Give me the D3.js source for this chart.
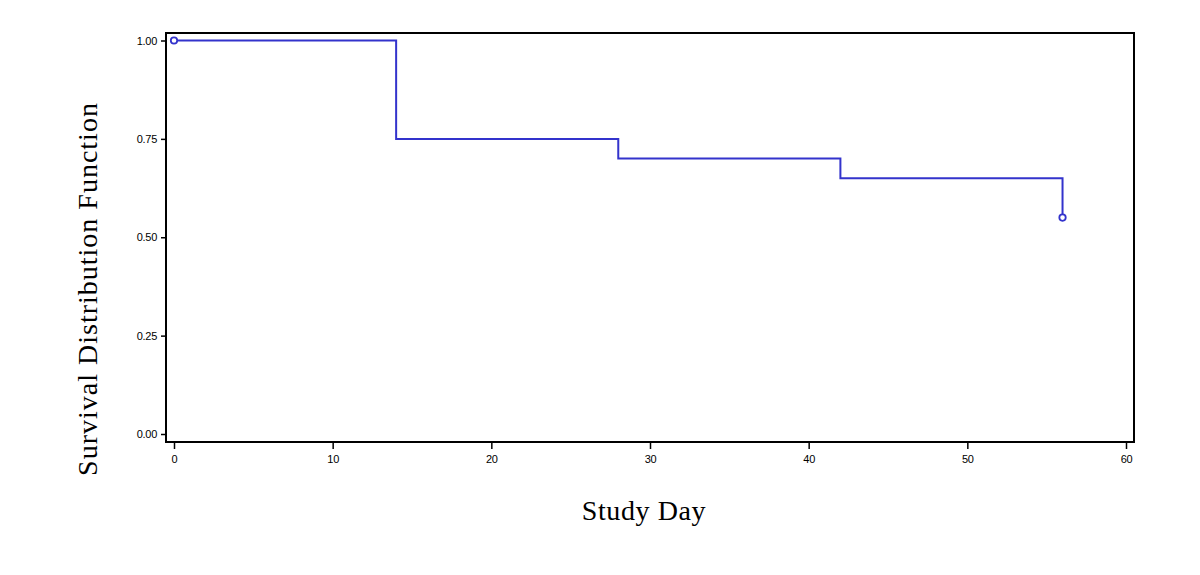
<!DOCTYPE html>
<html><head><meta charset="utf-8">
<script src="https://cdn.jsdelivr.net/npm/d3@7"></script>
<style>body{margin:0;background:#fff}</style>
</head><body>
<svg id="c" width="1200" height="575"></svg>
<script>
const stepTimes = [0, 14, 28, 42, 56];
const survival = [1.0, 0.75, 0.70, 0.65, 0.55];
const censorTimes = [0, 56];
const censorValues = [1.0, 0.55];
const xTicks = [0, 10, 20, 30, 40, 50, 60];
const yTicks = [0, 0.25, 0.5, 0.75, 1.0];
const xTitle = "Study Day";
const yTitle = "Survival Distribution Function";

const svg = d3.select("#c");
const x = d3.scaleLinear().domain([0, 60]).range([174, 1126]);
const y = d3.scaleLinear().domain([0, 1]).range([434, 40.5]);
const frame = {l:166, r:1134, t:33, b:442};

svg.append("rect").attr("x", frame.l).attr("y", frame.t)
  .attr("width", frame.r-frame.l).attr("height", frame.b-frame.t)
  .attr("fill","none").attr("stroke","#000").attr("stroke-width",2);

const xa = svg.append("g").attr("transform", `translate(0,${frame.b})`)
  .call(d3.axisBottom(x).tickValues(xTicks).tickSize(7).tickPadding(6).tickFormat(d3.format("d")));
xa.select(".domain").remove();
const ya = svg.append("g").attr("transform", `translate(${frame.l},0)`)
  .call(d3.axisLeft(y).tickValues(yTicks).tickSize(5).tickPadding(4).tickFormat(d3.format(".2f")));
ya.select(".domain").remove();
svg.selectAll(".tick line").attr("stroke","#000").attr("stroke-width",1.5);
svg.selectAll(".tick text").attr("font-family","Liberation Sans, Arial, sans-serif").attr("font-size",11).attr("fill","#000").attr("letter-spacing",-0.3);

const pts = stepTimes.map((t,i)=>({t, s:survival[i]}));
const line = d3.line().x(d=>x(d.t)).y(d=>y(d.s)).curve(d3.curveStepAfter);
svg.append("path").datum(pts).attr("d", line)
  .attr("fill","none").attr("stroke","#3333cc").attr("stroke-width",2);

svg.selectAll("circle.cens").data(censorTimes.map((t,i)=>({t, s:censorValues[i]})))
  .join("circle").attr("class","cens")
  .attr("cx", d=>x(d.t)).attr("cy", d=>y(d.s)).attr("r",3.2)
  .attr("fill","#fff").attr("stroke","#3333cc").attr("stroke-width",1.8);

svg.append("text").attr("x", 644).attr("y", 520).attr("text-anchor","middle")
  .attr("font-family","Liberation Serif, Times New Roman, serif").attr("font-size",28).attr("letter-spacing",0.6).attr("fill","#000").text(xTitle);
svg.append("text").attr("transform","translate(97,289) rotate(-90)").attr("text-anchor","middle")
  .attr("font-family","Liberation Serif, Times New Roman, serif").attr("font-size",28).attr("letter-spacing",1).attr("fill","#000").text(yTitle);
</script>
</body></html>
